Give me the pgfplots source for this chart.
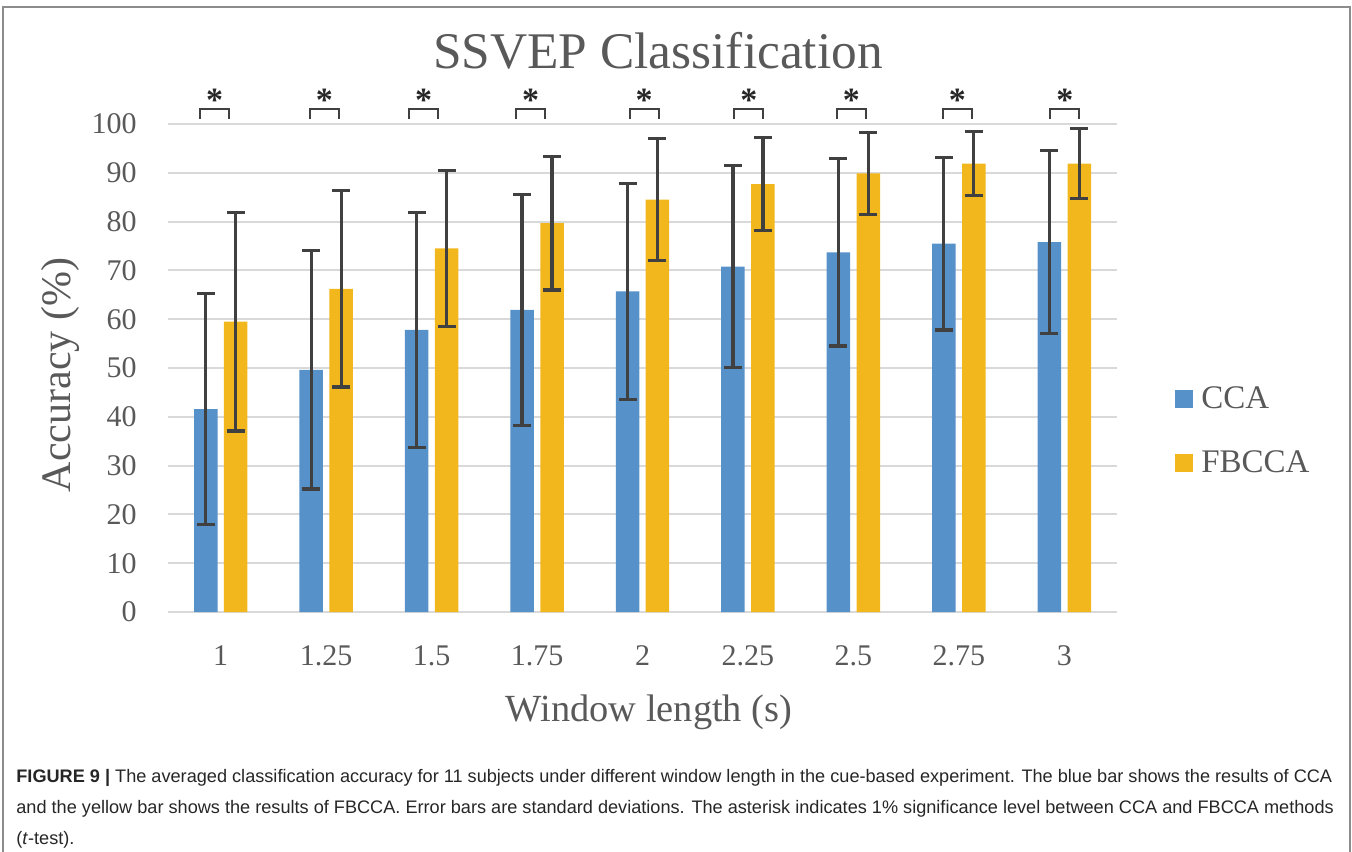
\documentclass[border=0pt]{standalone}
\usepackage{pgfplots}
\pgfplotsset{compat=1.18}
\usepackage{fontspec}
\setmainfont{Liberation Serif}
\newfontfamily\capfont{Liberation Sans}
\definecolor{ccablue}{HTML}{5692C9}
\definecolor{fbyellow}{HTML}{F2B71D}
\definecolor{errgray}{HTML}{404040}
\definecolor{gridgray}{HTML}{D9D9D9}
\definecolor{txtgray}{HTML}{595959}
\definecolor{framegray}{HTML}{8C8C8C}

\begin{document}
\begin{tikzpicture}
\useasboundingbox (0,0) rectangle (676pt,-425.5pt);
\draw[framegray, line width=1pt] (1.5pt,-426pt) -- (1.5pt,-3.5pt) -- (675pt,-3.5pt) -- (675pt,-426pt);

\begin{axis}[
  at={(84pt,-306pt)}, anchor=south west,
  width=474.5pt, height=244pt, scale only axis,
  xmin=0.5, xmax=9.5, ymin=0, ymax=100,
  axis line style={draw=none},
  tick style={draw=none},
  ymajorgrids, major grid style={gridgray, line width=1pt},
  ytick={0,10,...,100},
  xtick={1,...,9},
  xticklabels={1,1.25,1.5,1.75,2,2.25,2.5,2.75,3},
  tick label style={font=\fontsize{15}{18}\selectfont, text=txtgray},
  /pgf/number format/assume math mode=true,
  yticklabel style={anchor=east, inner sep=0pt, xshift=-15.5pt},
  xticklabel style={anchor=base, inner sep=0pt, yshift=-26.5pt},
  clip=false,
  unbounded coords=jump,
  legend style={at={(1.061,0.371)}, anchor=west, draw=none, fill=none,
    font=\fontsize{16.5}{19}\selectfont, text=txtgray,
    inner xsep=0pt, inner ysep=0pt, row sep=15.5pt},
  legend cell align=left,
]

% CCA (bars placed left of each window length)
\addplot[ybar, bar width=11.75pt, bar shift=0pt, fill=ccablue, draw=none,
  legend image code/.code={\fill[ccablue] (0pt,-4.5pt) rectangle (9pt,4.5pt); \path (11pt,0pt);},
  error bars/.cd, y dir=both, y explicit,
  error bar style={errgray, line width=1.6pt},
  error mark options={rotate=90, mark size=4.5pt, line width=1.6pt, errgray}]
coordinates {
  (0.858,41.6) +- (0,23.7)
  (1.858,49.6) +- (0,24.4)
  (2.858,57.8) +- (0,24.1)
  (3.858,61.9) +- (0,23.6)
  (4.858,65.7) +- (0,22.1)
  (5.858,70.8) +- (0,20.7)
  (6.858,73.7) +- (0,19.2)
  (7.858,75.5) +- (0,17.7)
  (8.858,75.8) +- (0,18.8)
};
\addlegendentry{CCA}

% FBCCA (bars placed right of each window length)
\addplot[ybar, bar width=11.75pt, bar shift=0pt, fill=fbyellow, draw=none,
  legend image code/.code={\fill[fbyellow] (0pt,-4.5pt) rectangle (9pt,4.5pt); \path (11pt,0pt);},
  error bars/.cd, y dir=both, y explicit,
  error bar style={errgray, line width=1.6pt},
  error mark options={rotate=90, mark size=4.5pt, line width=1.6pt, errgray}]
coordinates {
  (1.142,59.5) +- (0,22.4)
  (2.142,66.2) +- (0,20.1)
  (3.142,74.5) +- (0,16.0)
  (4.142,79.7) +- (0,13.7)
  (5.142,84.5) +- (0,12.5)
  (6.142,87.7) +- (0,9.5)
  (7.142,89.9) +- (0,8.4)
  (8.142,91.9) +- (0,6.6)
  (9.142,91.9) +- (0,7.2)
};
\addlegendentry{FBCCA}

% significance brackets
\addplot[sharp plot, mark=none, errgray, line width=1pt, forget plot]
coordinates {
  (0.806,101) (0.806,103.1) (1.081,103.1) (1.081,101) (1.081,nan)
  (1.845,101) (1.845,103.1) (2.120,103.1) (2.120,101) (2.120,nan)
  (2.788,101) (2.788,103.1) (3.063,103.1) (3.063,101) (3.063,nan)
  (3.803,101) (3.803,103.1) (4.078,103.1) (4.078,101) (4.078,nan)
  (4.879,101) (4.879,103.1) (5.154,103.1) (5.154,101) (5.154,nan)
  (5.871,101) (5.871,103.1) (6.146,103.1) (6.146,101) (6.146,nan)
  (6.843,101) (6.843,103.1) (7.118,103.1) (7.118,101) (7.118,nan)
  (7.848,101) (7.848,103.1) (8.123,103.1) (8.123,101) (8.123,nan)
  (8.868,101) (8.868,103.1) (9.143,103.1) (9.143,101)
};

% asterisks
\addplot[draw=none, mark=none, forget plot, nodes near coords={*},
  every node near coord/.append style={anchor=base, inner sep=0pt,
    font=\bfseries\fontsize{17}{20}\selectfont, text=black!85}]
coordinates {
  (0.943,102.5) (1.982,102.5) (2.925,102.5) (3.940,102.5) (5.016,102.5)
  (6.008,102.5) (6.980,102.5) (7.985,102.5) (9.005,102.5)
};
\end{axis}

\node[anchor=base, font=\fontsize{25.7}{30}\selectfont, text=txtgray] at (329pt,-34pt) {SSVEP Classification};
\node[rotate=90, font=\fontsize{21}{25}\selectfont, text=txtgray] at (30pt,-187.5pt) {Accuracy (\%)};
\node[anchor=base, font=\fontsize{19.2}{23}\selectfont, text=txtgray] at (324.5pt,-360.5pt) {Window length (s)};

\begin{scope}[every node/.style={anchor=base west, inner sep=0pt, text=black!85, font=\capfont\fontsize{9.07}{12}\selectfont}]
\node at (8pt,-391pt) {\textbf{FIGURE 9 |} The averaged classification accuracy for 11 subjects under different window length in the cue-based experiment. The blue bar shows the results of CCA};
\node at (8pt,-406.5pt) {and the yellow bar shows the results of FBCCA. Error bars are standard deviations. The asterisk indicates 1\% significance level between CCA and FBCCA methods};
\node at (8pt,-422pt) {(\textit{t}-test).};
\end{scope}
\end{tikzpicture}
\end{document}
